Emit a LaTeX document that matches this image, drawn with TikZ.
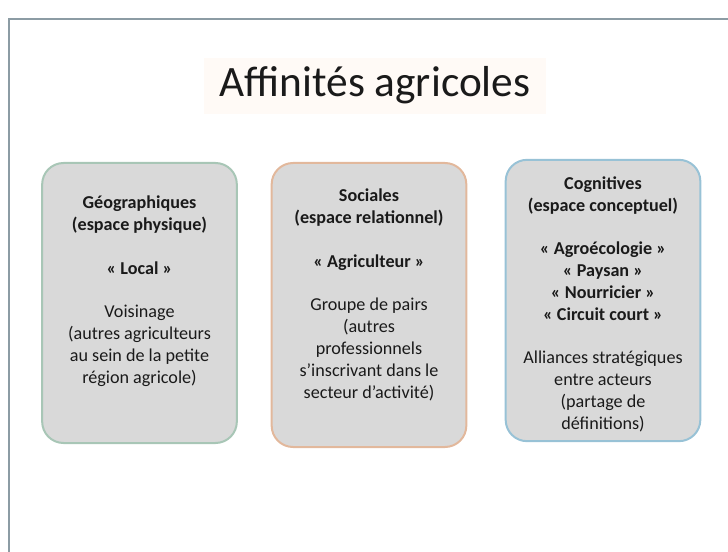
\documentclass[tikz,border=0pt]{standalone}
\usepackage{fontspec}
\setmainfont{Carlito}
\usepackage{tikz}
\usetikzlibrary{positioning}

\definecolor{framegray}{HTML}{8C9CA4}
\definecolor{boxfill}{HTML}{D9D9D9}
\definecolor{geoline}{HTML}{A8C6B6}
\definecolor{socline}{HTML}{E2B89C}
\definecolor{cogline}{HTML}{98C2D6}
\definecolor{titlebg}{HTML}{FFFAF6}
\definecolor{inktext}{HTML}{1A1A1A}

\tikzset{
  affbox/.style={draw=#1, line width=1.5pt, fill=boxfill, rounded corners=16pt,
    minimum width=146pt, minimum height=211pt},
  afftext/.style={anchor=north, align=center, inner sep=0pt, text=inktext,
    font=\fontsize{13.6}{16.5}\selectfont},
}

\begin{document}
\begin{tikzpicture}[x=0.75pt, y=-0.75pt]
  \useasboundingbox (0,0) rectangle (728,552);
  % slide frame
  \draw[framegray, line width=1.2pt] (9,552) -- (9,19) -- (728,19);

  % title
  \node[fill=titlebg, inner xsep=12pt, inner ysep=7pt, anchor=base, font=\fontsize{32.5}{38}\selectfont, text=inktext]
    (title) at (375,97) {Affinités agricoles};

  % three boxes
  \node[affbox=geoline, minimum height=210pt] (geo) at (139.5,303) {};
  \node[affbox=socline, minimum height=213pt] (soc) at (369,305) {};
  \node[affbox=cogline] (cog) at (603,300.5) {};

  % box contents
  \node[afftext] (geotext) at (139.5,196) {%
    \textbf{Géographiques}\\ \textbf{(espace physique)}\\[16pt]
    \textbf{« Local »}\\[16pt]
    Voisinage\\ (autres agriculteurs\\ au sein de la petite\\ région agricole)};
  \node[afftext] (soctext) at (369,189) {%
    \textbf{Sociales}\\ \textbf{(espace relationnel)}\\[16pt]
    \textbf{« Agriculteur »}\\[16pt]
    Groupe de pairs\\ (autres\\ professionnels\\ s’inscrivant dans le\\ secteur d’activité)};
  \node[afftext] (cogtext) at (603,176) {%
    \textbf{Cognitives}\\ \textbf{(espace conceptuel)}\\[16pt]
    \textbf{« Agroécologie »}\\ \textbf{« Paysan »}\\ \textbf{« Nourricier »}\\ \textbf{« Circuit court »}\\[16pt]
    Alliances stratégiques\\ entre acteurs\\ (partage de\\ définitions)};
\end{tikzpicture}
\end{document}
